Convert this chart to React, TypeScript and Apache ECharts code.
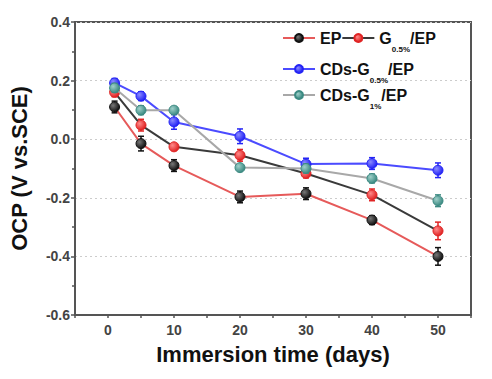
import React, { useEffect, useRef } from 'react';
import * as echarts from 'echarts';

const days = [1, 5, 10, 20, 30, 40, 50];
const seriesNames = ['EP', 'G0.5%/EP', 'CDs-G0.5%/EP', 'CDs-G1%/EP'];
const legendLabels: Record<string, string> = {
  'EP': '{m|EP}',
  'G0.5%/EP': '{m|G}{s|0.5%}{m|/EP}',
  'CDs-G0.5%/EP': '{m|CDs-G}{s|0.5%}{m|/EP}',
  'CDs-G1%/EP': '{m|CDs-G}{s|1%}{m|/EP}',
};
const ep = [0.11, -0.015, -0.09, -0.197, -0.186, -0.276, -0.4];
const epErr = [0.02, 0.025, 0.02, 0.02, 0.02, 0.015, 0.03];
const g05 = [0.16, 0.048, -0.026, -0.055, -0.117, -0.19, -0.313];
const g05Err = [0.015, 0.02, 0.01, 0.02, 0.015, 0.02, 0.03];
const cds05 = [0.192, 0.147, 0.059, 0.01, -0.085, -0.083, -0.106];
const cds05Err = [0.015, 0.015, 0.025, 0.025, 0.02, 0.02, 0.025];
const cds1 = [0.175, 0.099, 0.099, -0.097, -0.1, -0.134, -0.21];
const cds1Err = [0.015, 0.015, 0.01, 0.01, 0.015, 0.015, 0.02];
const yTicks = [-0.6, -0.4, -0.2, 0.0, 0.2, 0.4];
const xTickLabels = [0, 10, 20, 30, 40, 50];

const markerColors = ['#111111', '#e02424', '#2424f5', '#3c8a82'];
const markerLights = ['#777777', '#ff8a8a', '#8a8aff', '#9fd0ca'];
const lineColors = ['#e65a5a', '#3a3a3a', '#4b4bff', '#a8a8a8'];
const allValues = [ep, g05, cds05, cds1];
const allErrs = [epErr, g05Err, cds05Err, cds1Err];

const FONT = '"Liberation Sans", Arial, sans-serif';

export default function App() {
  const ref = useRef<HTMLDivElement>(null);
  useEffect(() => {
    document.body.style.margin = '0';
    const chart = echarts.init(ref.current!, null, { renderer: 'svg' });
    const ball = (k: number) =>
      new echarts.graphic.RadialGradient(0.35, 0.35, 0.65, [
        { offset: 0, color: markerLights[k] },
        { offset: 1, color: markerColors[k] },
      ]);
    const lineSeries = seriesNames.map((name, k) => ({
      type: 'line',
      name,
      data: days.map((d, i) => [d, allValues[k][i]]),
      symbol: 'circle',
      symbolSize: 10,
      z: 3 + k,
      lineStyle: { color: lineColors[k], width: 2 },
      itemStyle: { color: ball(k), borderColor: markerColors[k], borderWidth: 1 },
    }));
    const errSeries = seriesNames.map((_, k) => ({
      type: 'custom',
      silent: true,
      z: 3 + k,
      data: days.map((d, i) => [d, allValues[k][i] - allErrs[k][i], allValues[k][i] + allErrs[k][i]]),
      encode: { x: 0, y: [1, 2] },
      renderItem: (params: any, api: any) => {
        const x = api.value(0);
        const lo = api.coord([x, api.value(1)]);
        const hi = api.coord([x, api.value(2)]);
        const w = 3;
        const style = { stroke: markerColors[k], lineWidth: 1.5 };
        return {
          type: 'group',
          children: [
            { type: 'line', shape: { x1: hi[0], y1: hi[1], x2: lo[0], y2: lo[1] }, style },
            { type: 'line', shape: { x1: hi[0] - w, y1: hi[1], x2: hi[0] + w, y2: hi[1] }, style },
            { type: 'line', shape: { x1: lo[0] - w, y1: lo[1], x2: lo[0] + w, y2: lo[1] }, style },
          ],
        };
      },
    }));
    const legendItem = (k: number) => ({
      name: seriesNames[k],
      itemStyle: { color: ball(k), borderColor: markerColors[k] },
      lineStyle: { color: lineColors[k], width: 2 },
    });
    const legendBase = {
      orient: 'horizontal',
      itemWidth: 32,
      itemHeight: 10,
      itemGap: 0,
      left: 277,
      formatter: (n: string) => legendLabels[n],
      textStyle: {
        fontFamily: FONT,
        fontWeight: 'bold',
        fontSize: 16,
        color: '#111',
        rich: {
          m: { fontFamily: FONT, fontWeight: 'bold', fontSize: 16, color: '#111' },
          s: { fontFamily: FONT, fontWeight: 'bold', fontSize: 8, color: '#111', padding: [22, 0, 0, 0] },
        },
      },
    };
    chart.setOption({
      animation: false,
      backgroundColor: '#ffffff',
      grid: { left: 75, right: 21, top: 22, bottom: 64, show: true, borderColor: '#555', borderWidth: 2, backgroundColor: 'transparent' },
      legend: [
        { ...legendBase, top: 25, data: [legendItem(0), legendItem(1)] },
        { ...legendBase, top: 56, data: [legendItem(2)] },
        { ...legendBase, top: 82, data: [legendItem(3)] },
      ],
      xAxis: {
        type: 'value',
        min: -5,
        max: 55,
        interval: 5,
        name: 'Immersion time (days)',
        nameLocation: 'middle',
        nameGap: 28,
        nameTextStyle: { fontFamily: FONT, fontWeight: 'bold', fontSize: 22, color: '#111' },
        axisLine: { show: true, onZero: false, lineStyle: { color: '#555', width: 2 } },
        axisTick: { show: true, inside: false, length: 3, lineStyle: { color: '#555', width: 1.5 } },
        axisLabel: {
          fontFamily: FONT, fontWeight: 'bold', fontSize: 14, color: '#444', margin: 8,
          formatter: (v: number) => (xTickLabels.includes(v) ? String(v) : ''),
        },
        splitLine: { show: false },
      },
      yAxis: {
        type: 'value',
        min: yTicks[0],
        max: yTicks[yTicks.length - 1],
        interval: 0.2,
        name: 'OCP (V vs.SCE)',
        nameLocation: 'middle',
        nameGap: 45,
        nameRotate: 90,
        nameTextStyle: { fontFamily: FONT, fontWeight: 'bold', fontSize: 22, color: '#111' },
        axisLine: { show: true, onZero: false, lineStyle: { color: '#555', width: 2 } },
        axisTick: { show: true, inside: false, length: 4, lineStyle: { color: '#555', width: 1.5 } },
        minorTick: { show: true, splitNumber: 2, length: 3, lineStyle: { color: '#555', width: 1.5 } },
        axisLabel: {
          fontFamily: FONT, fontWeight: 'bold', fontSize: 14, color: '#444', margin: 5,
          formatter: (v: number) => v.toFixed(1),
        },
        splitLine: { show: true, lineStyle: { color: '#cccccc', type: [2, 3], width: 1 } },
      },
      series: [...errSeries, ...lineSeries],
    });
    return () => chart.dispose();
  }, []);
  return <div ref={ref} style={{ position: 'fixed', left: 0, top: 0, width: 492, height: 379 }} />;
}
